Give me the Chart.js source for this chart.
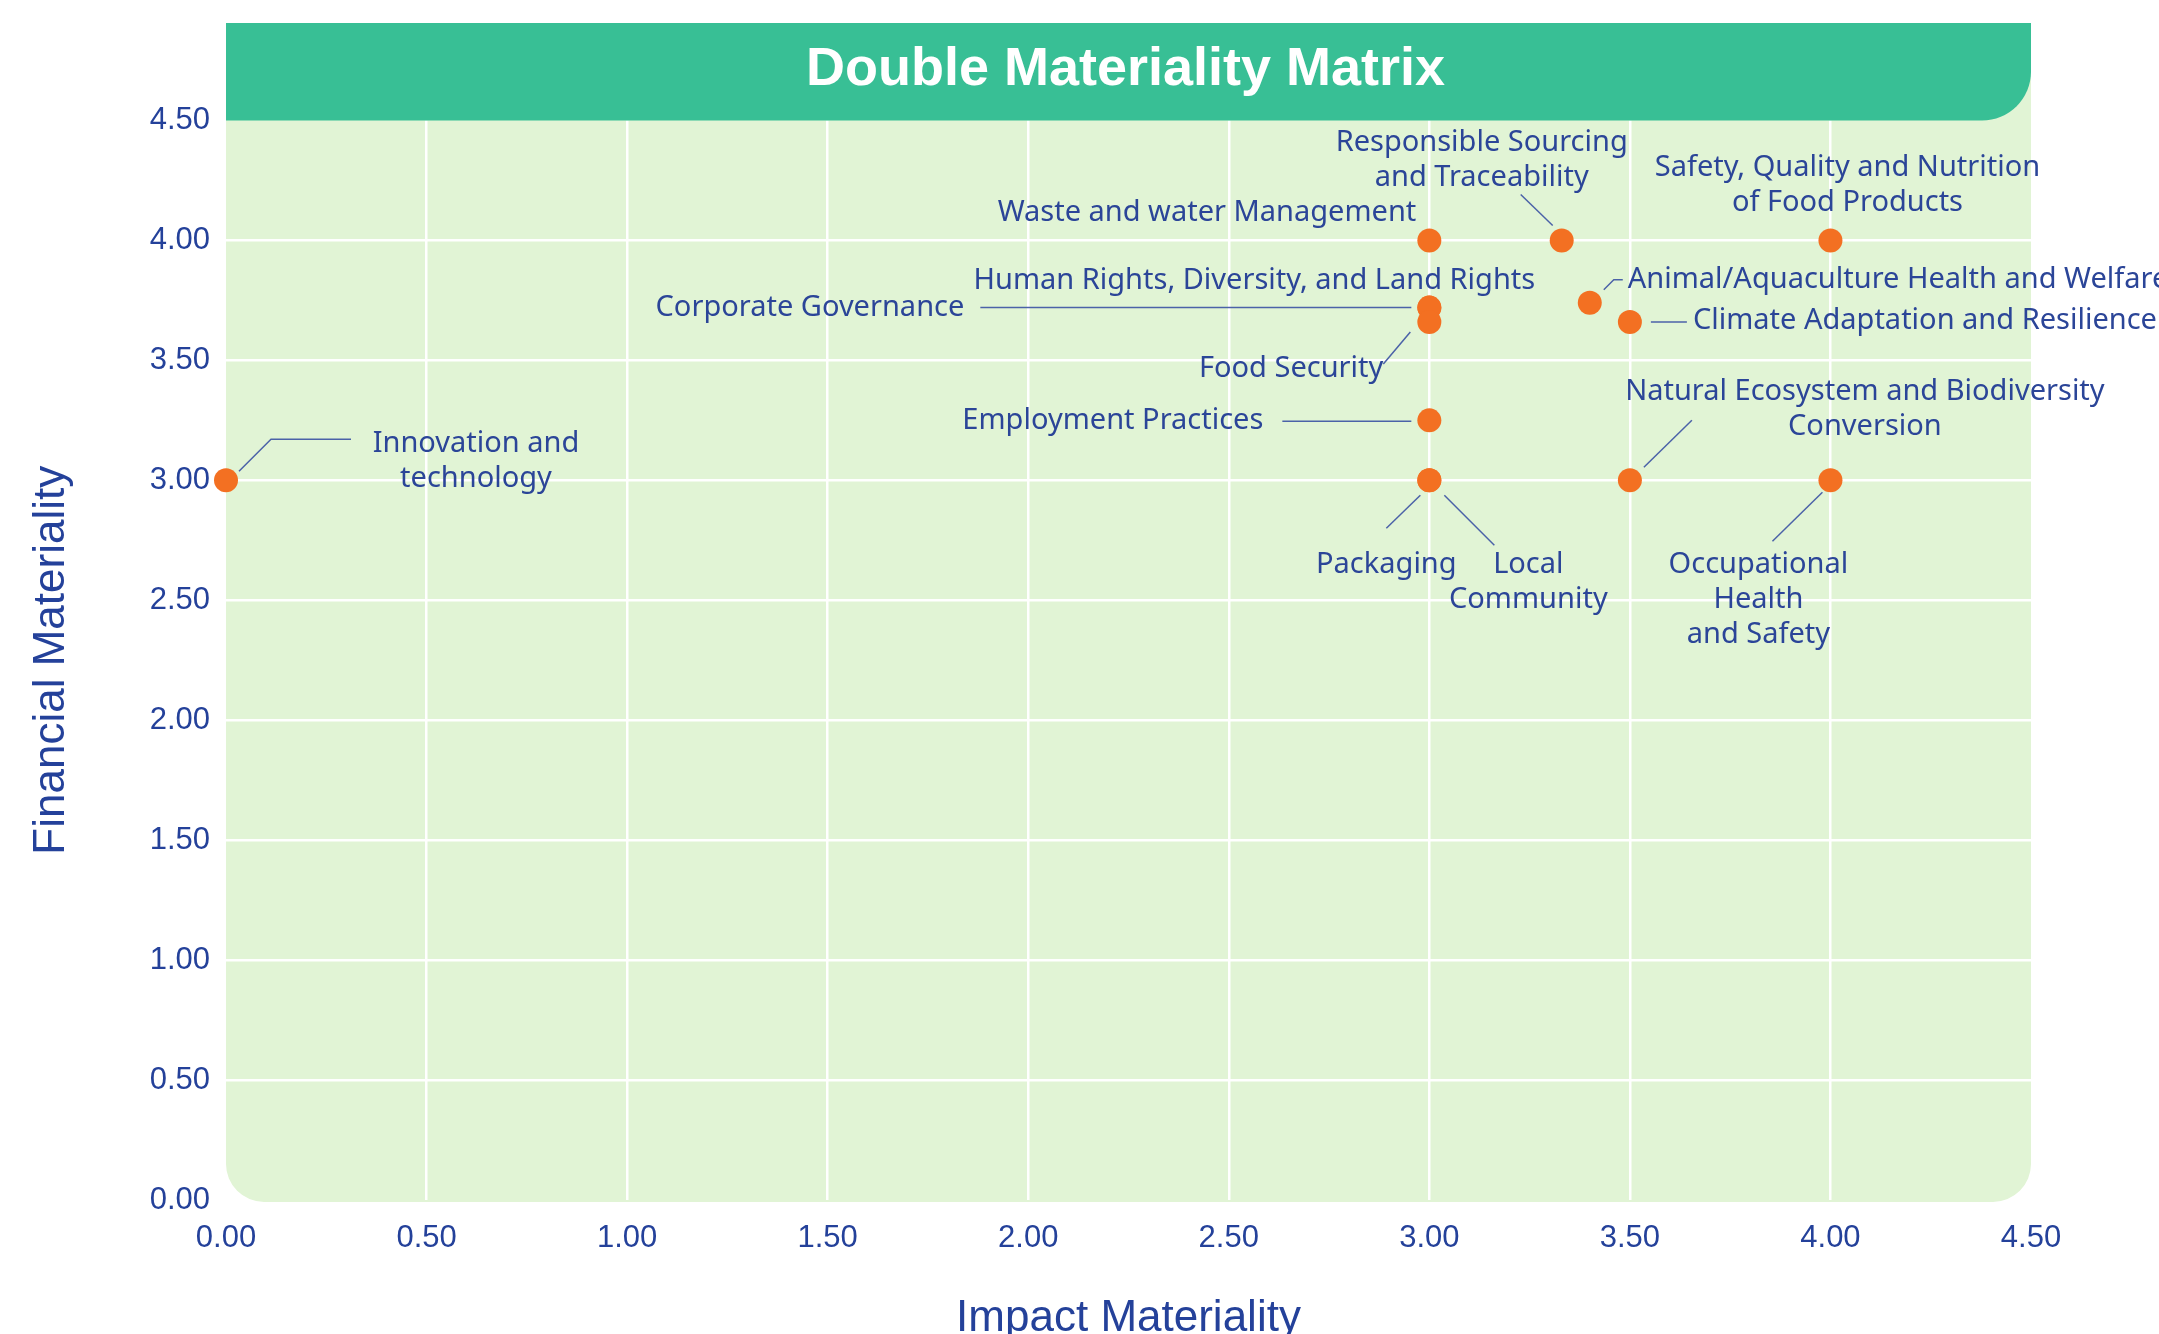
<!DOCTYPE html>
<html>
<head>
<meta charset="utf-8">
<title>Double Materiality Matrix</title>
<script src="https://cdn.jsdelivr.net/npm/chart.js@4.4.1/dist/chart.umd.min.js"></script>
<style>
  html, body { margin: 0; padding: 0; background: #ffffff; }
  #wrap { width: 2159px; height: 1334px; }
</style>
</head>
<body>
<div id="wrap"><canvas id="matrix"></canvas></div>
<script>
// topics, one per dot (line breaks as in the picture)
var topics = [
  'Innovation and\ntechnology',
  'Waste and water Management',
  'Responsible Sourcing\nand Traceability',
  'Safety, Quality and Nutrition\nof Food Products',
  'Human Rights, Diversity, and Land Rights',
  'Corporate Governance',
  'Food Security',
  'Animal/Aquaculture Health and Welfare',
  'Climate Adaptation and Resilience',
  'Employment Practices',
  'Packaging',
  'Local\nCommunity',
  'Natural Ecosystem and Biodiversity\nConversion',
  'Occupational\nHealth\nand Safety'
];
var impact    = [0, 3, 3.33, 4, 3, 3, 3, 3.4, 3.5, 3, 3, 3, 3.5, 4];
var financial = [3, 4, 4, 4, 3.72, 3.72, 3.66, 3.74, 3.66, 3.25, 3, 3, 3, 3];
var tickValues = [0, 0.5, 1, 1.5, 2, 2.5, 3, 3.5, 4, 4.5];

// where each label sits relative to its dot (pixels), plus leader lines
var labelPos = [
  { align: 'center', dx: 250,   dy: -37,  leader: [[13, -9], [45, -41], [125, -41]] },
  { align: 'right',  dx: -13,   dy: -28 },
  { align: 'center', dx: -80,   dy: -98,  leader: [[-41, -46], [-9, -15]] },
  { align: 'center', dx: 17,    dy: -73 },
  { align: 'center', dx: -175,  dy: -27 },
  { align: 'right',  dx: -465,  dy: 0,    leader: [[-449, 0], [-18, 0]] },
  { align: 'right',  dx: -46,   dy: 47,   leader: [[-19, 10], [-46, 42]] },
  { align: 'left',   dx: 38,    dy: -23,  leader: [[14, -13], [24, -23], [33, -23]] },
  { align: 'left',   dx: 63,    dy: -1,   leader: [[21, 0], [57, 0]] },
  { align: 'right',  dx: -166,  dy: 0,    leader: [[-147, 1], [-18, 1]] },
  { align: 'center', dx: -43,   dy: 84,   leader: [[-9, 15], [-43, 48]] },
  { align: 'center', dx: 99,    dy: 84,   leader: [[15, 15], [65, 65]] },
  { align: 'center', dx: 235,   dy: -89,  leader: [[14, -13], [62, -60]] },
  { align: 'center', dx: -72,   dy: 84,   leader: [[-8, 12], [-58, 61]] }
];

var inkBlue = '#24419a';
var labelBlue = '#2b4598';
var lineBlue = '#4b62a8';
var headerGreen = '#38bf95';
var plotGreen = '#e1f4d5';
var lineGap = 35;

function gridColor(c) {
  if (c.tick && (c.tick.value === 0 || c.tick.value === 4.5)) return 'rgba(0,0,0,0)';
  return '#ffffff';
}

var matrixDecor = {
  id: 'matrixDecor',
  beforeDraw: function(chart) {
    var ctx = chart.ctx, a = chart.chartArea;
    ctx.save();
    ctx.fillStyle = plotGreen;
    ctx.beginPath();
    ctx.roundRect(a.left, 23, a.right - a.left, a.bottom + 2 - 23, [0, 0, 38, 38]);
    ctx.fill();
    ctx.restore();
  },
  beforeDatasetsDraw: function(chart) {
    var ctx = chart.ctx, a = chart.chartArea;
    ctx.save();
    ctx.fillStyle = headerGreen;
    ctx.beginPath();
    ctx.roundRect(a.left, 23, a.right - a.left, a.top - 23, [0, 0, 49, 0]);
    ctx.fill();
    ctx.fillStyle = '#ffffff';
    ctx.font = 'bold 54px "Liberation Sans", Arial, sans-serif';
    ctx.textAlign = 'center';
    ctx.textBaseline = 'middle';
    ctx.fillText('Double Materiality Matrix', (a.left + a.right) / 2 - 3, 70);
    ctx.restore();
  },
  afterDatasetsDraw: function(chart) {
    var ctx = chart.ctx;
    var pts = chart.getDatasetMeta(0).data;
    ctx.save();
    ctx.strokeStyle = lineBlue;
    ctx.lineWidth = 1.5;
    ctx.fillStyle = labelBlue;
    ctx.font = '29px "Noto Sans", sans-serif';
    ctx.textBaseline = 'middle';
    topics.forEach(function(name, i) {
      var p = pts[i], lp = labelPos[i];
      if (lp.leader) {
        ctx.beginPath();
        lp.leader.forEach(function(o, k) {
          if (k === 0) ctx.moveTo(p.x + o[0], p.y + o[1]);
          else ctx.lineTo(p.x + o[0], p.y + o[1]);
        });
        ctx.stroke();
      }
      ctx.textAlign = lp.align;
      name.split('\n').forEach(function(line, k) {
        ctx.fillText(line, p.x + lp.dx, p.y + lp.dy + k * lineGap);
      });
    });
    ctx.restore();
  }
};

new Chart(document.getElementById('matrix'), {
  type: 'scatter',
  data: {
    datasets: [{
      data: impact.map(function(x, i) { return { x: x, y: financial[i] }; }),
      backgroundColor: '#f37022',
      borderWidth: 0,
      pointRadius: 12,
      pointHoverRadius: 12,
      clip: false
    }]
  },
  options: {
    responsive: true,
    maintainAspectRatio: false,
    animation: false,
    events: [],
    layout: { padding: { top: 120.5, right: 128, bottom: 0, left: 0 } },
    plugins: { legend: { display: false }, tooltip: { enabled: false } },
    scales: {
      x: {
        type: 'linear', min: 0, max: 4.5,
        afterBuildTicks: function(s) { s.ticks = tickValues.map(function(v) { return { value: v }; }); },
        afterFit: function(s) { s.height = 134; },
        grid: { color: gridColor, lineWidth: 2.5, drawTicks: false },
        border: { display: false },
        ticks: {
          padding: 20, color: inkBlue, autoSkip: false, maxRotation: 0,
          font: { family: '"Liberation Sans", Arial, sans-serif', size: 31 },
          callback: function(v) { return Number(v).toFixed(2); }
        },
        title: {
          display: true, text: 'Impact Materiality', color: inkBlue, padding: 0,
          font: { family: '"Liberation Sans", Arial, sans-serif', size: 44, lineHeight: 0.68 }
        }
      },
      y: {
        type: 'linear', min: 0, max: 4.5,
        afterBuildTicks: function(s) { s.ticks = tickValues.map(function(v) { return { value: v }; }); },
        afterFit: function(s) { s.width = 226; },
        grid: { color: gridColor, lineWidth: 2.5, drawTicks: false },
        border: { display: false },
        ticks: {
          padding: 16, color: inkBlue, autoSkip: false,
          font: { family: '"Liberation Sans", Arial, sans-serif', size: 31 },
          callback: function(v) { return Number(v).toFixed(2); }
        },
        title: {
          display: true, text: 'Financial Materiality', color: inkBlue,
          padding: { top: 25, bottom: 0 },
          font: { family: '"Liberation Sans", Arial, sans-serif', size: 44 }
        }
      }
    }
  },
  plugins: [matrixDecor]
});
</script>
</body>
</html>
